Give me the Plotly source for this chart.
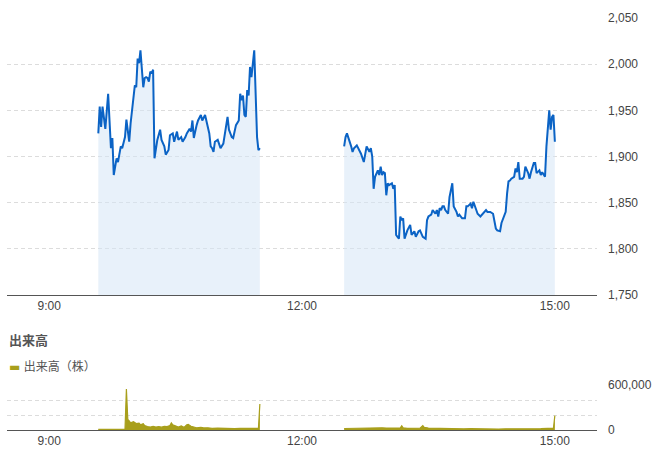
import plotly.graph_objects as go

DAY = "2024-01-01 "

# ---- price data (morning session) ----
am_times = ["09:35","09:36","09:37","09:38","09:40","09:42","09:44","09:45","09:46","09:48",
            "09:49","09:51","09:52","09:54","09:55","09:57","09:58","10:00","10:01","10:02",
            "10:03","10:04","10:05","10:07","10:08","10:09","10:10","10:11","10:12","10:13",
            "10:14","10:15","10:17","10:19","10:20","10:22","10:23","10:25","10:26","10:28",
            "10:29","10:31","10:32","10:34","10:35","10:37","10:38","10:40","10:41","10:42",
            "10:43","10:45","10:46","10:48","10:49","10:51","10:53","10:54","10:55","10:56",
            "10:57","10:58","11:00","11:02","11:04","11:05","11:07","11:08","11:10","11:11",
            "11:13","11:15","11:16","11:17","11:18","11:19","11:20","11:21","11:22","11:23",
            "11:24","11:26","11:27","11:28","11:29","11:30"]
am_prices = [1925,1954,1932,1954,1930,1968,1909,1920,1880,1898,
             1894,1911,1909,1921,1940,1916,1936,1961,1977,1975,
             2006,2001,2015,1975,1985,1986,1985,1981,1992,1990,
             1994,1898,1918,1929,1918,1911,1902,1907,1923,1925,
             1916,1927,1918,1921,1916,1921,1925,1930,1927,1939,
             1920,1934,1939,1945,1939,1945,1930,1925,1911,1909,
             1905,1916,1918,1909,1914,1925,1943,1929,1921,1920,
             1934,1939,1968,1961,1966,1945,1943,1972,1966,1997,
             1986,2015,1972,1921,1907,1909]

# ---- price data (afternoon session) ----
pm_times = ["12:30","12:31","12:32","12:33","12:35","12:36","12:37","12:39","12:41","12:42",
            "12:44","12:46","12:48","12:49","12:50","12:51","12:52","12:54","12:55","12:56",
            "12:57","12:58","12:59","13:00","13:01","13:02","13:04","13:05","13:06","13:07",
            "13:08","13:09","13:10","13:11","13:12","13:13","13:15","13:16","13:17","13:18",
            "13:20","13:21","13:23","13:24","13:26","13:28","13:29","13:30","13:32","13:33",
            "13:35","13:36","13:37","13:38","13:39","13:40","13:41","13:42","13:44","13:45",
            "13:47","13:48","13:50","13:51","13:52","13:54","13:56","13:57","13:58","14:00",
            "14:01","14:02","14:04","14:05","14:07","14:08","14:10","14:11","14:12","14:14",
            "14:16","14:17","14:18","14:19","14:21","14:22","14:24","14:25","14:26","14:27",
            "14:28","14:29","14:31","14:32","14:33","14:34","14:35","14:37","14:38","14:39",
            "14:41","14:42","14:43","14:45","14:46","14:47","14:49","14:50","14:51","14:53",
            "14:54","14:55","14:56","14:57","14:58","14:59","15:00"]
pm_prices = [1911,1921,1925,1921,1911,1905,1909,1912,1907,1903,
             1894,1911,1905,1909,1900,1865,1878,1885,1880,1889,
             1880,1883,1882,1858,1871,1869,1871,1865,1869,1815,
             1813,1811,1835,1831,1833,1811,1820,1824,1826,1815,
             1819,1813,1819,1820,1813,1811,1831,1835,1837,1842,
             1838,1842,1835,1844,1842,1846,1846,1842,1838,1856,
             1871,1846,1840,1835,1837,1833,1833,1846,1846,1849,
             1844,1851,1842,1838,1835,1837,1840,1842,1840,1840,
             1838,1831,1822,1820,1819,1828,1835,1840,1860,1873,
             1874,1876,1878,1887,1883,1894,1876,1876,1878,1889,
             1882,1876,1883,1893,1893,1882,1885,1880,1883,1878,
             1911,1932,1950,1929,1943,1945,1916]

# ---- volume data ----
vol_am_times = ["09:35","09:40","09:45","09:50","09:54","09:55","09:56","09:57","09:58","10:00",
                "10:02","10:04","10:05","10:07","10:08","10:10","10:12","10:14","10:16","10:18",
                "10:20","10:22","10:24","10:26","10:27","10:28","10:30","10:32","10:34","10:36",
                "10:38","10:39","10:41","10:43","10:45","10:48","10:50","10:53","10:56","11:00",
                "11:04","11:08","11:12","11:16","11:20","11:24","11:28","11:29","11:30"]
vol_am = [8000,9000,8000,10000,9000,547000,140000,120000,95000,110000,
          85000,90000,70000,85000,60000,45000,40000,50000,40000,45000,
          38000,50000,45000,60000,95000,70000,50000,40000,55000,35000,
          70000,75000,50000,40000,30000,35000,28000,30000,22000,25000,
          20000,22000,18000,22000,20000,25000,20000,22000,347000]
vol_pm_times = ["12:30","12:35","12:40","12:45","12:49","12:52","12:55","12:57","13:00","13:05",
                "13:10","13:11","13:12","13:15","13:20","13:24","13:26","13:27","13:30","13:35",
                "13:40","13:45","13:50","13:55","14:00","14:05","14:10","14:15","14:20","14:25",
                "14:30","14:35","14:40","14:45","14:50","14:55","14:59","15:00"]
vol_pm = [20000,22000,18000,20000,31000,28000,32000,30000,25000,22000,
          28000,55000,30000,22000,25000,24000,58000,35000,25000,22000,
          18000,15000,20000,15000,18000,14000,15000,13000,12000,15000,
          14000,12000,13000,15000,18000,22000,25000,191000]

# ---- axis ticks ----
price_ticks = [1750, 1800, 1850, 1900, 1950, 2000, 2050]
vol_ticks = [0, 200000, 400000, 600000]
vol_tick_text = ["0", "", "", "600,000"]
time_ticks = ["09:00", "12:00", "15:00"]
time_tick_text = ["9:00", "12:00", "15:00"]

LINE = "#0b63c5"
FILL = "rgba(214,230,246,0.55)"
VOL = "#a89f1c"
TXT = "#444444"
GRID = "#dcdcdc"
FONT = "Arial, 'Liberation Sans', 'Noto Sans CJK JP', sans-serif"

def ts(lst):
    return [DAY + t for t in lst]

fig = go.Figure()
for tt, pp in ((am_times, am_prices), (pm_times, pm_prices)):
    fig.add_trace(go.Scatter(x=ts(tt), y=pp, mode="lines", line=dict(color=LINE, width=2),
                             fill="tozeroy", fillcolor=FILL, showlegend=False,
                             xaxis="x", yaxis="y", hoverinfo="skip"))
for tt, vv in ((vol_am_times, vol_am), (vol_pm_times, vol_pm)):
    fig.add_trace(go.Scatter(x=ts(tt), y=vv, mode="lines", line=dict(color=VOL, width=1.2),
                             fill="tozeroy", fillcolor=VOL, showlegend=False,
                             xaxis="x2", yaxis="y2", hoverinfo="skip"))

xr = [DAY + "08:30", DAY + "15:30"]
H, T, B = 459, 18, 29
ph = H - T - B
price_bottom = (430 - 295) / ph
vol_top = (430 - 385) / ph

common_x = dict(type="date", range=xr, showgrid=False, zeroline=False, showline=True,
                linecolor="#555555", linewidth=1, ticks="",
                tickvals=ts(time_ticks), ticktext=time_tick_text,
                tickfont=dict(size=12, color=TXT, family=FONT))
common_y = dict(side="right", showline=False, zeroline=False, ticks="",
                gridcolor=GRID, griddash="4px,3px", gridwidth=1,
                tickfont=dict(size=12, color=TXT, family=FONT), ticklabelstandoff=10)

fig.update_layout(
    width=658, height=459,
    margin=dict(l=7, r=61, t=T, b=B),
    paper_bgcolor="white", plot_bgcolor="white",
    font=dict(family=FONT, color=TXT),
    xaxis=dict(domain=[0, 1], anchor="y", **common_x),
    yaxis=dict(domain=[price_bottom, 1], range=[1750, 2050], tickvals=price_ticks,
               tickformat=",", **common_y),
    xaxis2=dict(domain=[0, 1], anchor="y2", **common_x),
    yaxis2=dict(domain=[0, vol_top], range=[0, 600000], tickvals=vol_ticks,
                ticktext=vol_tick_text, **common_y),
    annotations=[
        dict(text="<b>出来高</b>", xref="paper", yref="paper", x=0, y=(430 - 340) / ph,
             xanchor="left", yanchor="middle", showarrow=False,
             font=dict(size=13, color="#555555", family=FONT)),
        dict(text="<span style='color:%s;font-family:DejaVu Sans'>▬</span> 出来高（株）" % VOL,
             xref="paper", yref="paper",
             x=0, y=(430 - 366) / ph, xanchor="left", yanchor="middle", showarrow=False,
             font=dict(size=12, color="#555555", family=FONT)),
    ],
)

fig.write_html("out.html")
